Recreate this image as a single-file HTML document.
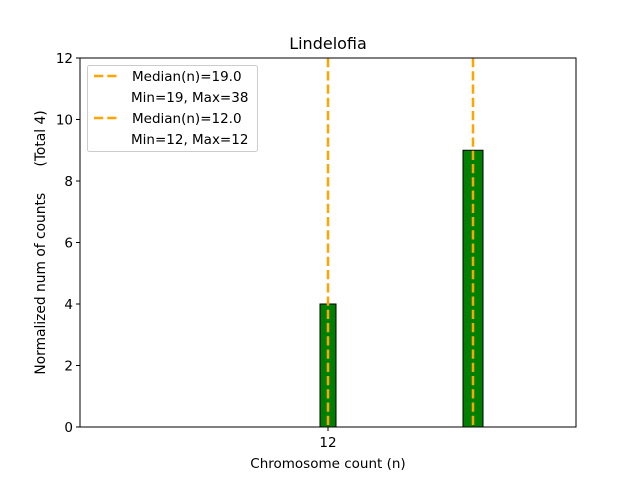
<!DOCTYPE html>
<html><head><style>body{margin:0;background:#fff}svg{display:block}text{font-family:"DejaVu Sans","Liberation Sans",sans-serif;fill:#000}</style></head><body>
<svg width="640" height="480" xmlns="http://www.w3.org/2000/svg">
<rect width="640" height="480" fill="#fff"/>
<text x="328" y="49" font-size="16" text-anchor="middle">Lindelofia</text>
<rect x="320" y="304" width="16" height="123" fill="#008000" stroke="#000" stroke-width="1"/>
<rect x="463" y="150.25" width="20" height="276.75" fill="#008000" stroke="#000" stroke-width="1"/>
<line x1="328" y1="58" x2="328" y2="427" stroke="#ffa500" stroke-width="2.5" stroke-dasharray="9.25,4"/>
<line x1="473" y1="58" x2="473" y2="427" stroke="#ffa500" stroke-width="2.5" stroke-dasharray="9.25,4"/>
<rect x="80" y="58" width="496" height="369" fill="none" stroke="#000" stroke-width="1"/>
<g font-size="13.5" text-anchor="end">
<line x1="76" y1="427" x2="80" y2="427" stroke="#000"/><text x="73" y="432">0</text>
<line x1="76" y1="365.5" x2="80" y2="365.5" stroke="#000"/><text x="73" y="370.5">2</text>
<line x1="76" y1="304" x2="80" y2="304" stroke="#000"/><text x="73" y="309">4</text>
<line x1="76" y1="242.5" x2="80" y2="242.5" stroke="#000"/><text x="73" y="247.5">6</text>
<line x1="76" y1="181" x2="80" y2="181" stroke="#000"/><text x="73" y="186">8</text>
<line x1="76" y1="119.5" x2="80" y2="119.5" stroke="#000"/><text x="73" y="124.5">10</text>
<line x1="76" y1="58" x2="80" y2="58" stroke="#000"/><text x="73" y="63">12</text>
</g>
<line x1="328" y1="427" x2="328" y2="431" stroke="#000"/>
<text x="328" y="447" font-size="13.5" text-anchor="middle">12</text>
<text x="328" y="468" font-size="13.5" text-anchor="middle">Chromosome count (n)</text>
<text transform="translate(45,242.5) rotate(-90)" font-size="13.8" text-anchor="middle" xml:space="preserve">Normalized num of counts      (Total 4)</text>
<rect x="87.5" y="65.5" width="170" height="86" rx="2" fill="#fff" fill-opacity="0.8" stroke="#ccc"/>
<line x1="94" y1="76" x2="118" y2="76" stroke="#ffa500" stroke-width="2.5" stroke-dasharray="9.25,4"/>
<text x="132" y="81" font-size="13.5">Median(n)=19.0</text>
<text x="131" y="102" font-size="13.5">Min=19, Max=38</text>
<line x1="94" y1="118" x2="118" y2="118" stroke="#ffa500" stroke-width="2.5" stroke-dasharray="9.25,4"/>
<text x="132" y="123" font-size="13.5">Median(n)=12.0</text>
<text x="131" y="144" font-size="13.5">Min=12, Max=12</text>
</svg>
</body></html>
